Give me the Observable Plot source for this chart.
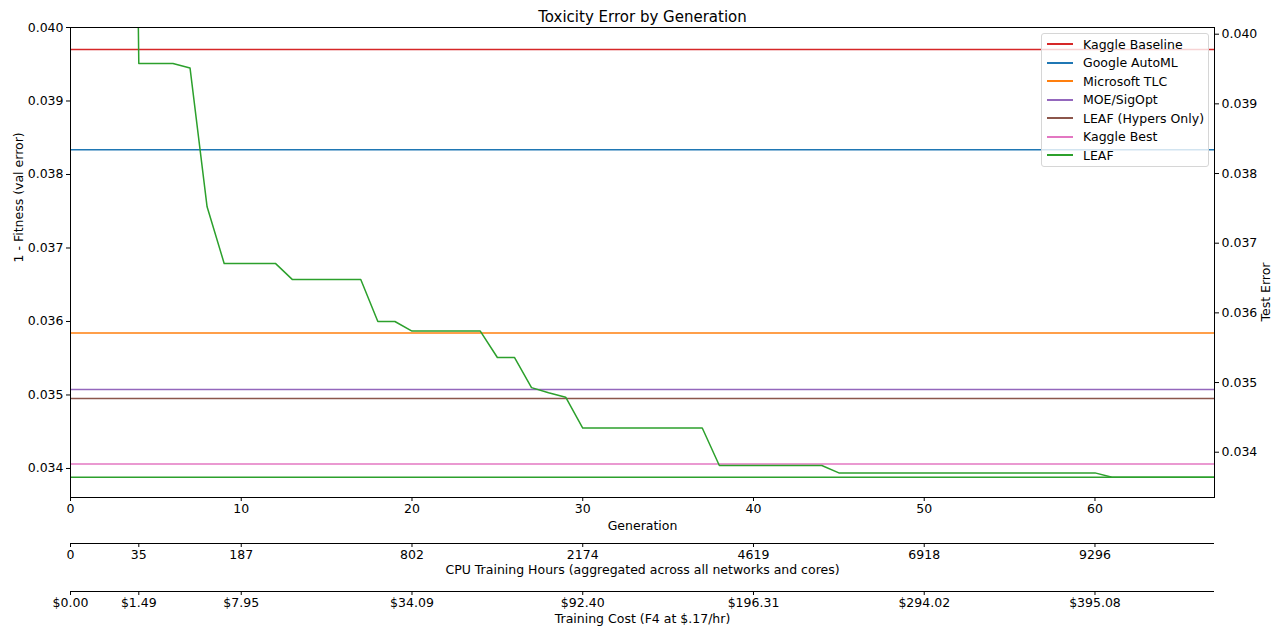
<!DOCTYPE html>
<html>
<head>
<meta charset="utf-8">
<script src="https://cdn.jsdelivr.net/npm/d3@7"></script>
<script src="https://cdn.jsdelivr.net/npm/@observablehq/plot@0.6"></script>
<style>
  body { margin: 0; background: #fff; font-family: "DejaVu Sans", sans-serif; }
  #wrap { position: relative; width: 1278px; height: 626px; overflow: hidden; }
  #legend {
    position: absolute; left: 1041px; top: 33px; width: 168px; height: 134px;
    box-sizing: border-box; border: 1px solid #d6d6d6; border-radius: 3px;
    background: rgba(255,255,255,0.8); font-size: 12.5px; color: #000;
    padding-top: 1px;
  }
  .row { height: 18.5px; display: flex; align-items: center; }
  .sw { width: 26px; height: 1.6px; margin-left: 5px; margin-right: 10px; }
</style>
</head>
<body>
<div id="wrap"><div id="legend"></div></div>
<script>
// ---- data ----
const title = "Toxicity Error by Generation";
// LEAF validation error (1 - fitness) per generation 0..67 (gens 0-3 are off the top of the chart)
const valError = [
  0.2, 0.1, 0.07, 0.058,
  0.03951, 0.03951, 0.03951, 0.03945, 0.03756,
  0.03679, 0.03679, 0.03679, 0.03679,
  0.03657, 0.03657, 0.03657, 0.03657, 0.03657,
  0.03600, 0.03600,
  0.03587, 0.03587, 0.03587, 0.03587, 0.03587,
  0.03551, 0.03551,
  0.03510, 0.03503, 0.03497,
  0.03455, 0.03455, 0.03455, 0.03455, 0.03455, 0.03455, 0.03455, 0.03455,
  0.03404, 0.03404, 0.03404, 0.03404, 0.03404, 0.03404, 0.03404,
  0.03394, 0.03394, 0.03394, 0.03394, 0.03394, 0.03394, 0.03394, 0.03394,
  0.03394, 0.03394, 0.03394, 0.03394, 0.03394, 0.03394, 0.03394, 0.03394,
  0.03388, 0.03388, 0.03388, 0.03388, 0.03388, 0.03388, 0.03388
];
// Test errors (right axis)
const methods = ["Kaggle Baseline", "Google AutoML", "Microsoft TLC", "MOE/SigOpt", "LEAF (Hypers Only)", "Kaggle Best", "LEAF"];
const testErrors = [0.03978, 0.03834, 0.03571, 0.03490, 0.03477, 0.03383, 0.03364];
const colors = ["#d62728", "#1f77b4", "#ff7f0e", "#9467bd", "#8c564b", "#e377c2", "#2ca02c"];

const leftTicks = [0.034, 0.035, 0.036, 0.037, 0.038, 0.039, 0.040];
const rightTicks = [0.034, 0.035, 0.036, 0.037, 0.038, 0.039, 0.040];
const genTicks = [0, 10, 20, 30, 40, 50, 60];
const extraTickGens = [0, 4, 10, 20, 30, 40, 50, 60];
const cpuHours = ["0", "35", "187", "802", "2174", "4619", "6918", "9296"];
const costs = ["$0.00", "$1.49", "$7.95", "$34.09", "$92.40", "$196.31", "$294.02", "$395.08"];

const xLabel = "Generation";
const cpuLabel = "CPU Training Hours (aggregated across all networks and cores)";
const costLabel = "Training Cost (F4 at $.17/hr)";
const yLabel = "1 - Fitness (val error)";
const y2Label = "Test Error";

// ---- scales ----
const yLo = 0.033605, yHi = 0.0400;     // left axis limits
const rLo = 0.03335, rHi = 0.040096;    // right axis limits
const toLeft = v => yLo + (v - rLo) * (yHi - yLo) / (rHi - rLo);

const leafData = valError.map((v, i) => ({gen: i, v}));
const hlines = methods.map((m, i) => ({name: m, v: toLeft(testErrors[i]), color: colors[i]}));
const rightPos = rightTicks.map(toLeft);

const fmt3 = d3.format(".3f");
const ink = "#000";

const chart = Plot.plot({
  width: 1278,
  height: 626,
  marginLeft: 70,
  marginRight: 64,
  marginTop: 27,
  marginBottom: 129,
  style: {fontFamily: "DejaVu Sans, sans-serif", fontSize: "12.5px", color: ink, background: "#fff", overflow: "visible"},
  x: {domain: [0, 67]},
  y: {domain: [yLo, yHi]},
  color: {type: "identity"},
  marks: [
    Plot.ruleY(hlines, {y: "v", stroke: "color", strokeWidth: 1.5}),
    Plot.line(leafData, {x: "gen", y: "v", stroke: colors[6], strokeWidth: 1.5, clip: true}),
    Plot.frame({stroke: ink, strokeWidth: 1}),
    // left axis
    Plot.axisY({ticks: leftTicks, tickFormat: fmt3, tickSize: 4, tickPadding: 3, label: null}),
    // right axis (test error)
    Plot.axisY({anchor: "right", ticks: rightPos, tickFormat: d => fmt3(rightTicks[rightPos.indexOf(d)]), tickSize: 4, tickPadding: 3, label: null}),
    // generation axis
    Plot.axisX({ticks: genTicks, tickFormat: d => String(d), tickSize: 4, tickPadding: 3, label: null}),
    // CPU hours axis
    Plot.ruleY([yLo], {dy: 46, stroke: ink, strokeWidth: 1}),
    Plot.axisX({ticks: extraTickGens, tickFormat: d => cpuHours[extraTickGens.indexOf(d)], tickSize: 4, tickPadding: 3, dy: 46, label: null}),
    // Cost axis
    Plot.ruleY([yLo], {dy: 94, stroke: ink, strokeWidth: 1}),
    Plot.axisX({ticks: extraTickGens, tickFormat: d => costs[extraTickGens.indexOf(d)], tickSize: 4, tickPadding: 3, dy: 94, label: null}),
    // labels
    Plot.text([xLabel], {frameAnchor: "bottom", dy: 28, lineAnchor: "middle", fill: ink}),
    Plot.text([cpuLabel], {frameAnchor: "bottom", dy: 72, lineAnchor: "middle", fill: ink}),
    Plot.text([costLabel], {frameAnchor: "bottom", dy: 121, lineAnchor: "middle", fill: ink}),
    Plot.text([yLabel], {frameAnchor: "left", dx: -51.5, rotate: -90, lineAnchor: "middle", fill: ink}),
    Plot.text([y2Label], {frameAnchor: "right", dx: 51.5, rotate: -90, lineAnchor: "middle", fill: ink}),
    Plot.text([title], {frameAnchor: "top", dy: -10, lineAnchor: "middle", fontSize: 15, fill: ink})
  ]
});

const wrap = document.getElementById("wrap");
wrap.insertBefore(chart, wrap.firstChild);

const legend = document.getElementById("legend");
methods.forEach((m, i) => {
  const row = document.createElement("div");
  row.className = "row";
  const sw = document.createElement("div");
  sw.className = "sw";
  sw.style.background = colors[i];
  const t = document.createElement("span");
  t.textContent = m;
  row.appendChild(sw);
  row.appendChild(t);
  legend.appendChild(row);
});
</script>
</body>
</html>
